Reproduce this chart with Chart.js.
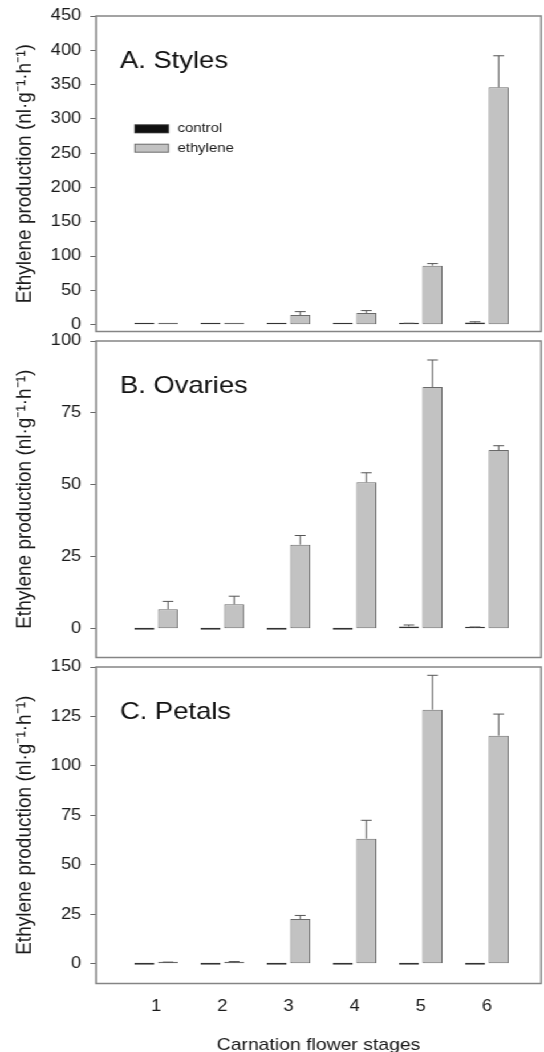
<!DOCTYPE html>
<html>
<head>
<meta charset="utf-8">
<script src="https://cdn.jsdelivr.net/npm/chart.js@4.4.1/dist/chart.umd.min.js"></script>
<style>
  html, body { margin: 0; padding: 0; background: #fff; overflow: hidden; }
  /* the figure is a bit wider than tall text would be, so the whole thing is stretched sideways */
  #wrap { position: relative; width: 477px; height: 1052px; transform: scaleX(1.1405); transform-origin: 0 0; }
  canvas { position: absolute; left: 0; }
</style>
</head>
<body>
<div id="wrap">
  <canvas id="styles" width="477" height="340" style="top:0px"></canvas>
  <canvas id="ovaries" width="477" height="335" style="top:330px"></canvas>
  <canvas id="petals" width="477" height="400" style="top:656px"></canvas>
</div>
<script>
const stages = [1, 2, 3, 4, 5, 6];
const seriesNames = ['control', 'ethylene'];

const stylesTicks = [0, 50, 100, 150, 200, 250, 300, 350, 400, 450];
const stylesControl = [0.3, 0.3, 0.3, 0.3, 1.5, 3.2];
const stylesControlErr = [0, 0, 0, 0, 0.5, 1.0];
const stylesEthylene = [0.4, 0.4, 14, 17, 86, 346];
const stylesEthyleneErr = [0, 0, 5, 3.5, 3, 46];

const ovariesTicks = [0, 25, 50, 75, 100];
const ovariesControl = [0, 0, 0, 0, 0.8, 0.3];
const ovariesControlErr = [0, 0, 0, 0, 0.5, 0.3];
const ovariesEthylene = [6.8, 8.5, 29.2, 50.9, 84, 62.1];
const ovariesEthyleneErr = [2.7, 2.8, 3.2, 3.3, 9.4, 1.5];

const petalsTicks = [0, 25, 50, 75, 100, 125, 150];
const petalsControl = [0, 0, 0, 0, 0, 0];
const petalsControlErr = [0, 0, 0, 0, 0, 0];
const petalsEthylene = [0.5, 0.7, 22.6, 63.2, 128.4, 115.3];
const petalsEthyleneErr = [0.3, 0.4, 1.8, 9.3, 17.4, 10.9];

const FONT = '"Liberation Sans", Arial, Helvetica, sans-serif';
const yTitle = 'Ethylene production (nl\u00b7g\u207b\u00b9\u00b7h\u207b\u00b9)';
const colControl = '#111111', colControlBorder = '#333333';
const colEthylene = '#c2c2c2', colEthyleneBorder = '#6a6a6a';

Chart.defaults.font.family = FONT;
Chart.defaults.color = '#1a1a1a';

// box round the plot area
const framePlugin = {
  id: 'frame',
  beforeDatasetsDraw(chart) {
    const a = chart.chartArea, ctx = chart.ctx;
    ctx.save();
    ctx.strokeStyle = '#858585';
    ctx.lineWidth = 1.5;
    ctx.strokeRect(a.left, a.top, a.right - a.left, a.bottom - a.top);
    ctx.restore();
  }
};

// upper error bars, drawn from each dataset's errors list
const errorPlugin = {
  id: 'errs',
  afterDatasetsDraw(chart) {
    const ctx = chart.ctx, y = chart.scales.y;
    ctx.save();
    ctx.strokeStyle = '#555';
    ctx.lineWidth = 1;
    chart.data.datasets.forEach((ds, i) => {
      const meta = chart.getDatasetMeta(i);
      meta.data.forEach((bar, j) => {
        const e = ds.errors[j];
        if (!e) return;
        const v = ds.data[j].y;
        const y0 = y.getPixelForValue(v), y1 = y.getPixelForValue(v + e);
        ctx.beginPath();
        ctx.moveTo(bar.x, y0); ctx.lineTo(bar.x, y1);
        ctx.moveTo(bar.x - 4.7, y1); ctx.lineTo(bar.x + 4.7, y1);
        ctx.stroke();
      });
    });
    ctx.restore();
  }
};

const labelPlugin = {
  id: 'panelLabel',
  afterDraw(chart, args, opts) {
    const a = chart.chartArea, ctx = chart.ctx;
    ctx.save();
    ctx.fillStyle = '#111';
    ctx.font = '24px ' + FONT;
    ctx.textBaseline = 'alphabetic';
    ctx.fillText(opts.text, a.left + 21, a.top + 52);
    ctx.restore();
  }
};

const keyPlugin = {
  id: 'key',
  afterDraw(chart, args, opts) {
    if (!opts.show) return;
    const ctx = chart.ctx;
    ctx.save();
    ctx.font = '13px ' + FONT;
    ctx.textBaseline = 'middle';
    chart.data.datasets.forEach((ds, i) => {
      const cy = 128.8 + i * 19.4;
      ctx.fillStyle = ds.borderColor;
      ctx.fillRect(117.8, cy - 4.5, 30.4, 9);
      ctx.fillStyle = ds.backgroundColor;
      ctx.fillRect(118.8, cy - 3.5, 28.4, 7);
      ctx.fillStyle = '#1a1a1a';
      ctx.fillText(ds.label, 155.8, cy);
    });
    ctx.restore();
  }
};

function points(vals) {
  return stages.map((s, i) => ({ x: s, y: vals[i] }));
}

function makeChart(id, ctrl, ctrlErr, eth, ethErr, yTicks, label, pad, bottom) {
  const xAxis = {
    type: 'linear', min: 0.09, max: 6.82, offset: false,
    display: bottom,
    ticks: { padding: 13, color: '#1a1a1a', font: { family: FONT, size: 16 } },
    grid: { display: false, drawTicks: false },
    border: { display: false },
    title: { display: bottom, text: 'Carnation flower stages', color: '#1a1a1a',
             font: { family: FONT, size: 17 }, padding: { top: 0, bottom: 0.8 } },
    afterBuildTicks: s => { s.ticks = stages.map(v => ({ value: v })); },
    afterFit: s => {
      if (bottom) s.height = 72.5;
      s.paddingLeft = 0; s.paddingRight = 0;
    }
  };
  return new Chart(document.getElementById(id), {
    type: 'bar',
    data: {
      datasets: [
        { label: seriesNames[0], data: points(ctrl), errors: ctrlErr,
          backgroundColor: colControl, borderColor: colControlBorder },
        { label: seriesNames[1], data: points(eth), errors: ethErr,
          backgroundColor: colEthylene, borderColor: colEthyleneBorder }
      ]
    },
    options: {
      responsive: false,
      animation: false,
      devicePixelRatio: 1,
      layout: { padding: pad },
      datasets: {
        bar: { categoryPercentage: 0.713, barPercentage: 0.85, borderWidth: 1,
               borderSkipped: false, minBarLength: 2 }
      },
      scales: {
        x: xAxis,
        y: {
          min: -10, max: yTicks[yTicks.length - 1],
          ticks: { padding: 8, color: '#1a1a1a', font: { family: FONT, size: 16 } },
          grid: { drawOnChartArea: false, drawTicks: true, tickLength: 5, color: '#666', lineWidth: 1 },
          border: { display: false },
          title: { display: true, text: yTitle, color: '#1a1a1a',
                   font: { family: FONT, size: 19 }, padding: { top: 10.5, bottom: 0 } },
          afterBuildTicks: s => { s.ticks = yTicks.map(v => ({ value: v })); },
          afterFit: s => { s.width = 84.2; s.paddingTop = 0; s.paddingBottom = 0; }
        }
      },
      plugins: {
        legend: { display: false },
        tooltip: { enabled: false },
        panelLabel: { text: label },
        key: { show: id === 'styles' }
      }
    },
    plugins: [framePlugin, errorPlugin, labelPlugin, keyPlugin]
  });
}

makeChart('styles', stylesControl, stylesControlErr, stylesEthylene, stylesEthyleneErr,
  stylesTicks, 'A. Styles', { top: 16, bottom: 8.5, left: 0, right: 2.6 }, false);
makeChart('ovaries', ovariesControl, ovariesControlErr, ovariesEthylene, ovariesEthyleneErr,
  ovariesTicks, 'B. Ovaries', { top: 11, bottom: 7.5, left: 0, right: 2.6 }, false);
makeChart('petals', petalsControl, petalsControlErr, petalsEthylene, petalsEthyleneErr,
  petalsTicks, 'C. Petals', { top: 11, bottom: 0, left: 0, right: 2.6 }, true);
</script>
</body>
</html>
